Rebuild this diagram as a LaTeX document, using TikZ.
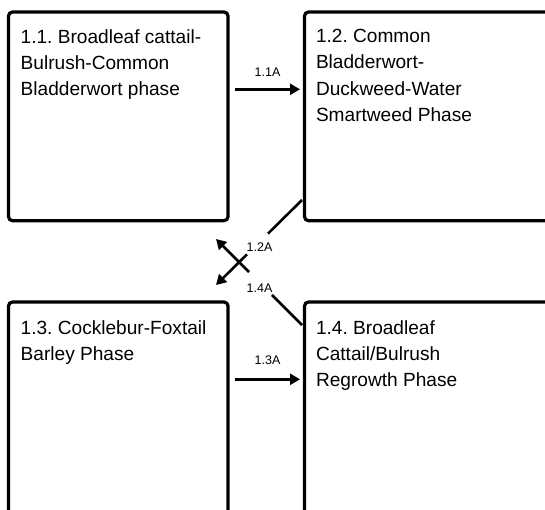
\documentclass[tikz,border=0pt]{standalone}
\usepackage{fontspec}
\setmainfont{Liberation Sans}
\usetikzlibrary{arrows.meta,calc}
\frenchspacing
\tikzset{
  phasebox/.style={draw=black, line width=3.2pt, rounded corners=4pt, inner sep=0pt, outer sep=0pt, anchor=north west},
  phasetext/.style={inner sep=0pt, outer sep=0pt, anchor=north west, align=left, font=\fontsize{19.1}{26.3}\selectfont},
  trans/.style={line width=2.6pt, -{Triangle[length=10pt,width=11pt]}},
  transline/.style={line width=2.6pt},
  translabel/.style={inner sep=0pt, outer sep=0pt, font=\fontsize{12.5}{14}\selectfont}
}
\begin{document}
\begin{tikzpicture}[x=1pt,y=-1pt]
\useasboundingbox (0,0) rectangle (545,509);
\clip (0,0) rectangle (545,509);
% boxes
\node[phasebox, minimum width=219.5pt, minimum height=208.7pt] (b11) at (8.5,12) {};
\node[phasebox, minimum width=270pt, minimum height=208.7pt] (b12) at (304.5,12) {};
\node[phasebox, minimum width=219.5pt, minimum height=240pt] (b13) at (8.5,302) {};
\node[phasebox, minimum width=270pt, minimum height=240pt] (b14) at (304.5,302) {};
% texts
\node[phasetext] (t11) at ([shift={(12.2,17.3)}]b11.north west) {1.1. Broadleaf cattail-\\Bulrush-Common\\Bladderwort phase};
\node[phasetext] (t12) at ([shift={(11.5,17.3)}]b12.north west) {1.2. Common\\Bladderwort-\\Duckweed-Water\\Smartweed Phase};
\node[phasetext] (t13) at ([shift={(12.2,18.3)}]b13.north west) {1.3. Cocklebur-Foxtail\\Barley Phase};
\node[phasetext] (t14) at ([shift={(11.5,18.3)}]b14.north west) {1.4. Broadleaf\\Cattail/Bulrush\\Regrowth Phase};
% horizontal transitions
\draw[trans] ([shift={(7,77.3)}]b11.north east) -- ([shift={(-4.5,77.3)}]b12.north west);
\node[translabel] (l11) at (267.5,72) {1.1A};
\draw[trans] ([shift={(7,77.3)}]b13.north east) -- ([shift={(-4.5,77.3)}]b14.north west);
\node[translabel] (l13) at (267.5,359.7) {1.3A};
% diagonal transitions
\coordinate (s12) at ([shift={(-2.5,-20.7)}]b12.south west);
\coordinate (e12) at ([shift={(-12,-17)}]b13.north east);
\draw[transline] (s12) -- ($(s12)!0.395!(e12)$);
\draw[trans] ($(s12)!0.64!(e12)$) -- (e12);
\node[translabel] (l12) at (259.5,247) {1.2A};
\coordinate (s14) at ([shift={(-2.5,23)}]b14.north west);
\coordinate (e14) at ([shift={(-12,18.3)}]b11.south east);
\draw[transline] (s14) -- ($(s14)!0.35!(e14)$);
\draw[trans] ($(s14)!0.616!(e14)$) -- (e14);
\node[translabel] (l14) at (259.5,288) {1.4A};
\end{tikzpicture}
\end{document}
